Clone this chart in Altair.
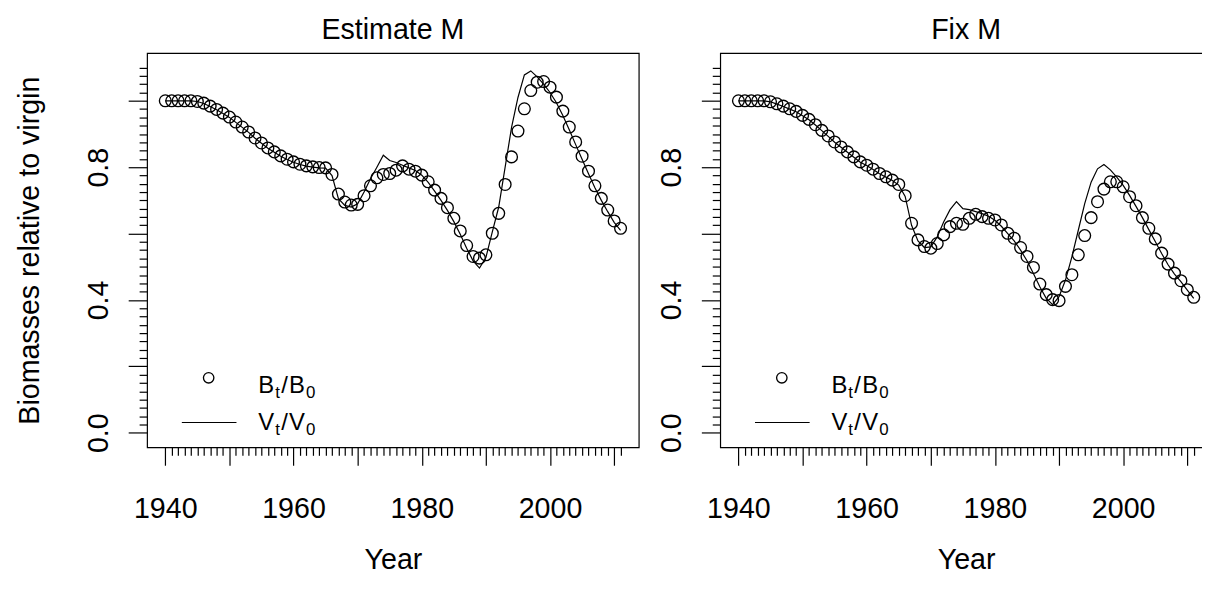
import altair as alt
import pandas as pd

# ---------------- data ----------------
years = list(range(1940, 2012))

est_B = [1.000, 1.000, 1.000, 1.000, 1.000, 0.998, 0.993, 0.984, 0.974, 0.963,
         0.951, 0.936, 0.921, 0.906, 0.888, 0.873, 0.858, 0.846, 0.834, 0.824,
         0.816, 0.809, 0.804, 0.801, 0.799, 0.798, 0.778, 0.719, 0.695, 0.686,
         0.688, 0.714, 0.744, 0.768, 0.778, 0.781, 0.791, 0.804, 0.794, 0.788,
         0.776, 0.756, 0.731, 0.706, 0.678, 0.646, 0.608, 0.564, 0.531, 0.526,
         0.536, 0.601, 0.661, 0.748, 0.831, 0.909, 0.976, 1.031, 1.056, 1.058,
         1.041, 1.011, 0.969, 0.921, 0.876, 0.833, 0.788, 0.744, 0.706, 0.671,
         0.638, 0.616]

est_V = [1.000, 1.000, 1.000, 1.000, 1.000, 0.998, 0.992, 0.983, 0.973, 0.962,
         0.950, 0.935, 0.920, 0.905, 0.887, 0.872, 0.857, 0.845, 0.833, 0.823,
         0.815, 0.808, 0.803, 0.800, 0.798, 0.797, 0.775, 0.705, 0.685, 0.680,
         0.690, 0.725, 0.765, 0.800, 0.836, 0.820, 0.814, 0.806, 0.798, 0.790,
         0.776, 0.754, 0.728, 0.700, 0.670, 0.636, 0.598, 0.556, 0.518, 0.496,
         0.528, 0.605, 0.680, 0.800, 0.920, 1.010, 1.078, 1.090, 1.072, 1.050,
         1.025, 0.994, 0.956, 0.913, 0.868, 0.824, 0.780, 0.738, 0.700, 0.666,
         0.634, 0.610]

fix_B = [1.000, 1.000, 1.000, 1.000, 1.000, 0.997, 0.991, 0.984, 0.976, 0.968,
         0.956, 0.944, 0.928, 0.911, 0.894, 0.876, 0.861, 0.846, 0.831, 0.816,
         0.806, 0.794, 0.781, 0.771, 0.761, 0.748, 0.714, 0.631, 0.581, 0.561,
         0.556, 0.570, 0.596, 0.621, 0.631, 0.628, 0.646, 0.658, 0.651, 0.646,
         0.641, 0.626, 0.601, 0.586, 0.558, 0.531, 0.498, 0.448, 0.416, 0.401,
         0.398, 0.441, 0.476, 0.536, 0.594, 0.648, 0.696, 0.734, 0.756, 0.756,
         0.741, 0.711, 0.684, 0.648, 0.616, 0.584, 0.541, 0.508, 0.481, 0.458,
         0.431, 0.408]

fix_V = [1.000, 1.000, 1.000, 1.000, 1.000, 0.997, 0.990, 0.983, 0.975, 0.967,
         0.955, 0.943, 0.927, 0.910, 0.893, 0.875, 0.860, 0.845, 0.830, 0.815,
         0.805, 0.793, 0.780, 0.770, 0.760, 0.746, 0.712, 0.625, 0.578, 0.558,
         0.560, 0.590, 0.635, 0.672, 0.696, 0.675, 0.672, 0.666, 0.660, 0.652,
         0.640, 0.622, 0.600, 0.578, 0.550, 0.518, 0.480, 0.440, 0.405, 0.386,
         0.410, 0.460, 0.530, 0.610, 0.690, 0.755, 0.795, 0.808, 0.792, 0.770,
         0.745, 0.715, 0.682, 0.648, 0.612, 0.576, 0.540, 0.506, 0.478, 0.455,
         0.430, 0.405]

panel_titles = ["Estimate M", "Fix M"]
x_tick_values = list(range(1940, 2012))
y_tick_values = [round(k * 0.025, 3) for k in range(45)]

# ---------------- style ----------------
FONT = "Liberation Sans"
FS = 28.8          # axis labels / titles
LFS = 24           # legend text
PW, PH = 495, 397
X_DOMAIN = [1937.16, 2013.84]
Y_DOMAIN = [-0.044, 1.144]
SW = 1.2
PT_SW = 1.35
PT_SIZE = 140


def axes(show_ytitle):
    xaxis = alt.Axis(
        values=x_tick_values, domain=False, grid=False,
        tickColor="black", tickWidth=SW,
        tickSize={"condition": {"test": "datum.value % 10 === 0", "value": 18}, "value": 8},
        labelExpr="datum.value % 20 === 0 ? '' + datum.value : ''",
        labelFont=FONT, labelFontSize=FS, labelColor="black",
        labelPadding=30, labelBaseline="top", labelAlign="center",
        labelFlush=False, labelOverlap=False,
        title="Year", titleFont=FONT, titleFontSize=FS, titleFontWeight="normal",
        titleColor="black", titleY=122, titleBaseline="alphabetic",
    )
    ykw = dict(
        values=y_tick_values, domain=False, grid=False,
        tickColor="black", tickWidth=SW,
        tickSize={"condition": {"test": "abs(datum.value*5 - round(datum.value*5)) < 0.001", "value": 19},
                  "value": 8},
        labelExpr="abs(datum.value*2.5 - round(datum.value*2.5)) < 0.001 ? format(datum.value, '.1f') : ''",
        labelFont=FONT, labelFontSize=FS, labelColor="black",
        labelAngle=270, labelAlign="center", labelBaseline="bottom",
        labelPadding=15, labelFlush=False, labelOverlap=False,
    )
    if show_ytitle:
        ykw.update(title="Biomasses relative to virgin", titleFont=FONT, titleFontSize=FS,
                   titleFontWeight="normal", titleColor="black", titleAngle=270,
                   titleX=-109, titleY=PH / 2, titleAlign="center", titleBaseline="alphabetic")
    else:
        ykw.update(title=None)
    return xaxis, alt.Axis(**ykw)


one = pd.DataFrame({"k": [0]})


def txt(s, x, y, size, align="left"):
    return alt.Chart(one).mark_text(
        text=s, font=FONT, fontSize=size, align=align, baseline="alphabetic", color="black"
    ).encode(x=alt.value(x), y=alt.value(y))


def legend_layers():
    pt = alt.Chart(one).mark_point(shape="circle", filled=False, size=110, color="black",
                                   strokeWidth=PT_SW, opacity=1).encode(x=alt.value(62), y=alt.value(327))
    ln = alt.Chart(one).mark_rule(color="black", strokeWidth=SW).encode(
        x=alt.value(35), x2=alt.value(90), y=alt.value(372))
    layers = [pt, ln]
    for letter, base in (("B", 342), ("V", 380)):
        layers += [
            txt(letter, 112, base, LFS),
            txt("t", 129, base + 5, 17),
            txt("/", 135, base, LFS),
            txt(letter, 143, base, LFS),
            txt("0", 160, base + 5, 17),
        ]
    return layers


def panel(title, B, V, show_ytitle):
    df = pd.DataFrame({"Year": years, "B": B, "V": V})
    xaxis, yaxis = axes(show_ytitle)
    x = alt.X("Year:Q", scale=alt.Scale(domain=X_DOMAIN, nice=False, zero=False), axis=xaxis)
    base = alt.Chart(df)
    pts = base.mark_point(shape="circle", filled=False, size=PT_SIZE, color="black",
                          strokeWidth=PT_SW, opacity=1).encode(
        x=x, y=alt.Y("B:Q", scale=alt.Scale(domain=Y_DOMAIN, nice=False, zero=False), axis=yaxis))
    line = base.mark_line(color="black", strokeWidth=SW).encode(
        x=x, y=alt.Y("V:Q", scale=alt.Scale(domain=Y_DOMAIN, nice=False, zero=False), axis=yaxis))
    head = txt(title, PW / 2, -14, FS, align="center")
    return alt.layer(pts, line, head, *legend_layers()).properties(width=PW, height=PH)


left = panel(panel_titles[0], est_B, est_V, True)
right = panel(panel_titles[1], fix_B, fix_V, False)

chart = alt.hconcat(left, right, spacing=82, bounds="flush").properties(
    padding={"left": 140, "top": 42, "right": 1062, "bottom": 546},
    autosize=alt.AutoSizeParams(type="none"),
    background="white",
).configure_view(stroke="black", strokeWidth=SW)

chart.save("out.html", embed_options={"renderer": "svg", "actions": False})
